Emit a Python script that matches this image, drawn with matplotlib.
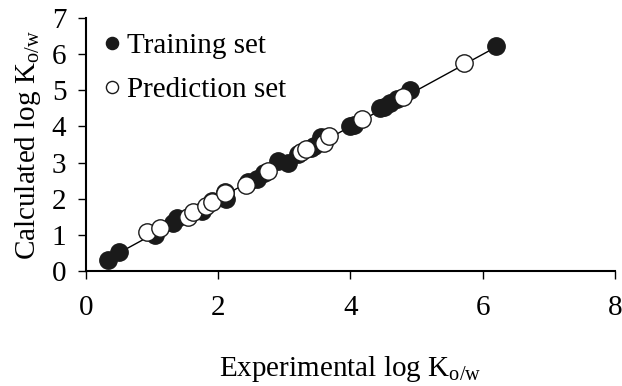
import numpy as np
import matplotlib
matplotlib.use("Agg")
import matplotlib.pyplot as plt

plt.rcParams['font.family'] = ['Liberation Serif', 'DejaVu Serif']
plt.rcParams['mathtext.fontset'] = 'custom'
plt.rcParams['mathtext.rm'] = 'Liberation Serif'
plt.rcParams['mathtext.it'] = 'Liberation Serif:italic'

# training set (experimental, calculated)
train_exp = [0.33, 0.50, 1.05, 1.31, 1.38, 1.75, 1.90, 2.12, 2.10, 2.45, 2.59, 2.70,
             2.90, 3.05, 3.20, 3.40, 3.45, 3.55, 4.00, 4.05, 4.45, 4.50, 4.60, 4.70,
             4.90, 6.20]
train_calc = [0.30, 0.53, 1.00, 1.32, 1.46, 1.65, 1.95, 2.00, 2.20, 2.45, 2.55, 2.70,
              3.05, 3.00, 3.25, 3.40, 3.45, 3.70, 4.00, 4.05, 4.50, 4.55, 4.65, 4.75,
              5.00, 6.23]

# prediction set
pred_exp = [0.92, 1.12, 1.55, 1.62, 1.82, 1.90, 2.10, 2.42, 2.75, 3.25, 3.32, 3.60,
            3.68, 4.18, 4.80, 5.71]
pred_calc = [1.08, 1.18, 1.50, 1.62, 1.80, 1.90, 2.15, 2.38, 2.78, 3.30, 3.38, 3.55,
             3.75, 4.22, 4.83, 5.75]

fig = plt.figure(figsize=(6.22, 3.86), dpi=100)
ax = fig.add_axes([0.138, 0.298, 0.851, 0.655])

lo = min(train_exp + pred_exp)
hi = max(train_exp + pred_exp)
ax.plot([lo, hi], [lo, hi], color='black', lw=1, zorder=1)

ax.plot(train_exp, train_calc, 'o', ms=12.5, mfc='#1a1a1a', mec='#1a1a1a',
        label='Training set', zorder=2)
ax.plot(pred_exp, pred_calc, 'o', ms=12.5, mfc='white', mec='#1a1a1a', mew=1,
        label='Prediction set', zorder=3)

ax.set_xlim(0, 8)
ax.set_ylim(0, 7)
ax.set_xticks([0, 2, 4, 6, 8])
ax.set_yticks(range(8))
ax.spines['top'].set_visible(False)
ax.spines['right'].set_visible(False)
ax.spines['left'].set_linewidth(1.5)
ax.spines['bottom'].set_linewidth(1.5)
ax.tick_params(labelsize=21, width=1, length=6, direction='out')
ax.tick_params(axis='x', pad=11)
ax.tick_params(axis='y', pad=8)

ax.set_xlabel(r'Experimental log K$_{\mathrm{o/w}}$', fontsize=21, labelpad=24)
ax.set_ylabel(r'Calculated log K$_{\mathrm{o/w}}$', fontsize=21, labelpad=6)

ax.legend(loc='upper left', frameon=False, fontsize=21, markerscale=0.7,
          handletextpad=0.1, handlelength=0.8, borderaxespad=0.1,
          labelspacing=0.6, bbox_to_anchor=(0.0, 1.0))

fig.savefig('out.png', dpi=100)
